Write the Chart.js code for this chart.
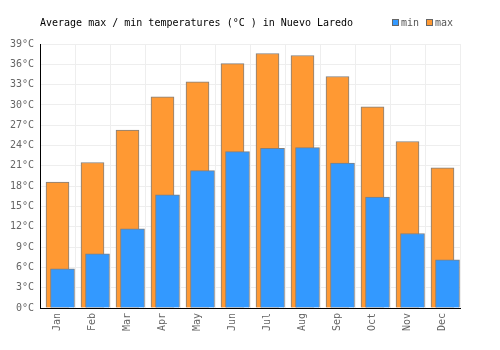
<!DOCTYPE html>
<html>
<head>
<meta charset="utf-8">
<script src="https://cdn.jsdelivr.net/npm/chart.js@4"></script>
<style>
html,body{margin:0;padding:0;background:#fff;}
#wrap{width:500px;height:350px;}
</style>
</head>
<body>
<div id="wrap"><canvas id="c" width="500" height="350"></canvas></div>
<script>
const months = ["Jan","Feb","Mar","Apr","May","Jun","Jul","Aug","Sep","Oct","Nov","Dec"];
const minTemps = [5.8, 8.0, 11.7, 16.7, 20.3, 23.1, 23.6, 23.7, 21.4, 16.4, 11.0, 7.1];
const maxTemps = [18.6, 21.5, 26.3, 31.2, 33.4, 36.1, 37.6, 37.3, 34.2, 29.7, 24.6, 20.7];
const yTicks = [0,3,6,9,12,15,18,21,24,27,30,33,36,39];
const titleText = "Average max / min temperatures (°C ) in Nuevo Laredo";

const MONO = "'DejaVu Sans Mono', monospace";

const header = {
  id: 'header',
  afterDraw(chart) {
    const ctx = chart.ctx;
    ctx.save();
    ctx.font = "10px " + MONO;
    ctx.textBaseline = 'middle';
    ctx.fillStyle = '#000';
    ctx.textAlign = 'left';
    ctx.fillText(titleText, 40, 23);
    let x = 392;
    chart.data.datasets.forEach(ds => {
      ctx.fillStyle = ds.backgroundColor;
      ctx.fillRect(x, 19, 7, 7);
      ctx.strokeStyle = '#666';
      ctx.lineWidth = 1;
      ctx.strokeRect(x + 0.5, 19.5, 6, 6);
      ctx.fillStyle = '#555';
      ctx.fillText(ds.label, x + 9, 23);
      x += 34;
    });
    ctx.restore();
  }
};

const shiftMin = {
  id: 'shiftMin',
  beforeDatasetDraw(chart, args) {
    if (args.index === 0) { chart.ctx.save(); chart.ctx.translate(5, 0); }
  },
  afterDatasetDraw(chart, args) {
    if (args.index === 0) { chart.ctx.restore(); }
  }
};

new Chart(document.getElementById('c'), {
  type: 'bar',
  data: {
    labels: months,
    datasets: [
      { label: 'min', data: minTemps, backgroundColor: '#3399ff', borderColor: '#808080', borderWidth: 1, barThickness: 24, grouped: false, clip: false },
      { label: 'max', data: maxTemps, backgroundColor: '#ff9933', borderColor: '#808080', borderWidth: 1, barThickness: 23, grouped: false, clip: false }
    ]
  },
  options: {
    responsive: false,
    animation: false,
    layout: { padding: { top: 44, right: 40, left: 0, bottom: 0 } },
    plugins: { legend: { display: false }, title: { display: false }, tooltip: { enabled: false } },
    scales: {
      x: {
        grid: { color: '#eeeeee', drawTicks: false, offset: true },
        border: { color: '#000', width: 1 },
        ticks: { color: '#666', font: { family: MONO, size: 10 }, minRotation: 90, maxRotation: 90, padding: 5 },
        afterFit(s) { s.height = 42; }
      },
      y: {
        min: 0, max: 39,
        afterBuildTicks(s) { s.ticks = yTicks.map(v => ({ value: v })); },
        grid: { color: '#eeeeee', drawTicks: false },
        border: { color: '#000', width: 1 },
        ticks: { color: '#666', font: { family: MONO, size: 10 }, padding: 6, callback: v => v + '°C' },
        afterFit(s) { s.width = 40; }
      }
    }
  },
  plugins: [header, shiftMin]
});
</script>
</body>
</html>
